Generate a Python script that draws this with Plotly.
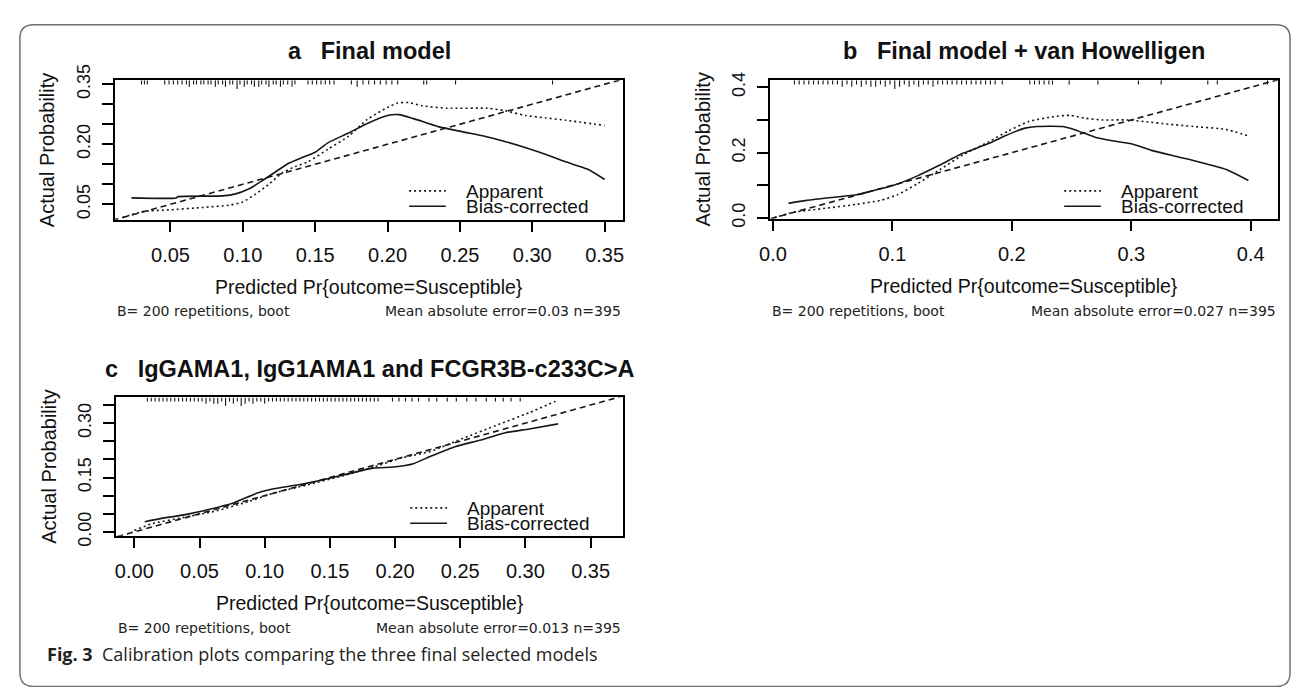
import plotly.graph_objects as go

W, H = 1295, 687
REG = "Liberation Sans, Arial, sans-serif"
SUBF = "DejaVu Sans, Verdana, sans-serif"
NB = "\u00a0"

# ------------------------------------------------------------------ data
ideal = [-0.05, 0.5]   # 45-degree reference line (ideal calibration)

# panel a : Final model
app_a_x = [0.017, 0.031, 0.049, 0.072, 0.091, 0.100, 0.109, 0.118, 0.127, 0.136, 0.145, 0.159,
           0.173, 0.186, 0.200, 0.207, 0.215, 0.224, 0.241, 0.269, 0.281, 0.295, 0.309, 0.323, 0.350]
app_a_y = [0.017, 0.032, 0.036, 0.042, 0.048, 0.056, 0.076, 0.100, 0.128, 0.144, 0.156, 0.188,
           0.220, 0.262, 0.292, 0.303, 0.304, 0.296, 0.290, 0.290, 0.284, 0.272, 0.266, 0.260, 0.247]
bc_a_x = [0.023, 0.054, 0.055, 0.086, 0.095, 0.104, 0.113, 0.123, 0.132, 0.141, 0.150, 0.159, 0.173,
          0.186, 0.200, 0.208, 0.218, 0.235, 0.252, 0.267, 0.281, 0.295, 0.309, 0.323, 0.338, 0.350]
bc_a_y = [0.066, 0.066, 0.069, 0.071, 0.076, 0.088, 0.108, 0.132, 0.153, 0.167, 0.180, 0.204, 0.228,
          0.252, 0.272, 0.274, 0.264, 0.244, 0.231, 0.220, 0.207, 0.192, 0.175, 0.156, 0.138, 0.112]
rug_a_x = [0.030, 0.032, 0.034, 0.046, 0.049, 0.052, 0.055, 0.058, 0.061, 0.063, 0.066, 0.068, 0.071,
           0.073, 0.076, 0.078, 0.081, 0.083, 0.086, 0.088, 0.091, 0.093, 0.096, 0.098, 0.101, 0.103,
           0.106, 0.108, 0.111, 0.113, 0.116, 0.118, 0.121, 0.123, 0.126, 0.128, 0.131, 0.134, 0.136,
           0.145, 0.148, 0.151, 0.154, 0.157, 0.160, 0.163, 0.175, 0.179, 0.183, 0.187, 0.191, 0.195,
           0.199, 0.203, 0.207, 0.225, 0.227, 0.247, 0.314]
rug_a_n = [1, 1, 1, 1, 1, 1, 1, 1, 1, 2, 1, 1, 1,
           1, 1, 1, 2, 1, 1, 2, 1, 1, 3, 1, 2, 1,
           1, 2, 2, 1, 1, 2, 1, 1, 2, 1, 1, 2, 1,
           1, 1, 1, 1, 1, 1, 1, 1, 2, 1, 1, 1, 1,
           1, 1, 1, 1, 1, 1, 1]

# panel b : Final model + van Howelligen
app_b_x = [0.001, 0.018, 0.042, 0.070, 0.090, 0.104, 0.121, 0.138, 0.159, 0.180, 0.197, 0.214,
           0.235, 0.249, 0.262, 0.276, 0.297, 0.311, 0.331, 0.352, 0.379, 0.398]
app_b_y = [0.001, 0.018, 0.029, 0.042, 0.054, 0.071, 0.105, 0.144, 0.193, 0.232, 0.266, 0.295,
           0.310, 0.314, 0.305, 0.300, 0.300, 0.295, 0.287, 0.280, 0.271, 0.251]
bc_b_x = [0.013, 0.028, 0.049, 0.070, 0.083, 0.101, 0.121, 0.138, 0.159, 0.180, 0.194, 0.211,
          0.221, 0.242, 0.252, 0.269, 0.283, 0.300, 0.317, 0.338, 0.355, 0.379, 0.398]
bc_b_y = [0.045, 0.054, 0.063, 0.071, 0.083, 0.100, 0.129, 0.159, 0.198, 0.227, 0.251, 0.275,
          0.280, 0.280, 0.271, 0.248, 0.237, 0.227, 0.207, 0.188, 0.173, 0.149, 0.115]
rug_b_x = [0.018, 0.022, 0.026, 0.030, 0.034, 0.038, 0.042, 0.046, 0.050, 0.054, 0.058, 0.062,
           0.066, 0.070, 0.074, 0.078, 0.082, 0.086, 0.090, 0.094, 0.098, 0.102, 0.106, 0.110,
           0.114, 0.118, 0.122, 0.126, 0.130, 0.134, 0.138, 0.142, 0.146, 0.150, 0.154, 0.158,
           0.162, 0.166, 0.170, 0.174, 0.178, 0.182, 0.186, 0.192, 0.215, 0.219, 0.223, 0.227,
           0.231, 0.234, 0.248, 0.272, 0.306, 0.325, 0.364, 0.372, 0.414]
rug_b_n = [1, 1, 1, 1, 1, 1, 1, 1, 1, 1, 2, 1,
           2, 1, 2, 1, 2, 2, 1, 2, 1, 3, 2, 1,
           2, 1, 2, 1, 1, 2, 1, 1, 1, 1, 1, 1,
           1, 1, 1, 1, 1, 1, 1, 1, 1, 1, 1, 1,
           1, 1, 1, 1, 1, 1, 1, 1, 1]

# panel c : IgGAMA1, IgG1AMA1 and FCGR3B-c233C>A
app_c_x = [0.000, 0.013, 0.038, 0.063, 0.088, 0.107, 0.132, 0.158, 0.183, 0.205, 0.227, 0.252,
           0.277, 0.303, 0.323]
app_c_y = [0.004, 0.022, 0.040, 0.058, 0.084, 0.107, 0.129, 0.153, 0.178, 0.204, 0.222, 0.258,
           0.293, 0.329, 0.360]
bc_c_x = [0.008, 0.019, 0.038, 0.057, 0.076, 0.095, 0.107, 0.126, 0.145, 0.164, 0.183, 0.199,
          0.214, 0.227, 0.246, 0.265, 0.284, 0.303, 0.325]
bc_c_y = [0.028, 0.036, 0.047, 0.062, 0.080, 0.108, 0.119, 0.130, 0.144, 0.160, 0.176, 0.179,
          0.188, 0.208, 0.235, 0.253, 0.273, 0.284, 0.298]
rug_c_x = [0.010, 0.013, 0.016, 0.019, 0.022, 0.025, 0.028, 0.031, 0.034, 0.037, 0.040, 0.043,
           0.046, 0.049, 0.052, 0.055, 0.058, 0.061, 0.064, 0.067, 0.070, 0.073, 0.076, 0.079,
           0.082, 0.085, 0.088, 0.091, 0.094, 0.097, 0.100, 0.103, 0.106, 0.109, 0.112, 0.115,
           0.118, 0.121, 0.124, 0.127, 0.130, 0.133, 0.136, 0.139, 0.142, 0.145, 0.148, 0.151,
           0.154, 0.157, 0.160, 0.163, 0.166, 0.169, 0.172, 0.175, 0.178, 0.181, 0.184, 0.187,
           0.198, 0.203, 0.208, 0.213, 0.218, 0.226, 0.232, 0.240, 0.247, 0.255, 0.262, 0.270,
           0.277, 0.283, 0.289, 0.296]
rug_c_n = [1, 1, 1, 1, 1, 1, 1, 1, 1, 1, 1, 1,
           1, 1, 1, 2, 1, 2, 2, 1, 3, 1, 2, 1,
           3, 2, 1, 2, 1, 1, 2, 1, 1, 1, 1, 1,
           1, 1, 1, 1, 1, 1, 1, 1, 1, 1, 1, 1,
           1, 1, 1, 1, 1, 1, 1, 1, 1, 1, 1, 1,
           1, 1, 1, 1, 1, 1, 1, 1, 1, 1, 1, 1,
           1, 1, 1, 1]

# tick values / labels
xt_a = [0.05, 0.10, 0.15, 0.20, 0.25, 0.30, 0.35]
xt_a_text = ["0.05", "0.10", "0.15", "0.20", "0.25", "0.30", "0.35"]
yt_a = [0.05, 0.10, 0.15, 0.20, 0.25, 0.30, 0.35]
yt_a_text = ["0.05", "", "", "0.20", "", "", "0.35"]
xt_b = [0.0, 0.1, 0.2, 0.3, 0.4]
xt_b_text = ["0.0", "0.1", "0.2", "0.3", "0.4"]
yt_b = [0.0, 0.1, 0.2, 0.3, 0.4]
yt_b_text = ["0.0", "", "0.2", "", "0.4"]
xt_c = [0.00, 0.05, 0.10, 0.15, 0.20, 0.25, 0.30, 0.35]
xt_c_text = ["0.00", "0.05", "0.10", "0.15", "0.20", "0.25", "0.30", "0.35"]
yt_c = [0.00, 0.05, 0.10, 0.15, 0.20, 0.25, 0.30, 0.35]
yt_c_text = ["0.00", "", "", "0.15", "", "", "0.30", ""]

panel_letters = ["a", "b", "c"]
titles = ["Final model", "Final model + van Howelligen", "IgGAMA1, IgG1AMA1 and FCGR3B-c233C>A"]
mae = ["0.03", "0.027", "0.013"]
n_obs = 395
B_reps = 200
legend_names = ["Apparent", "Bias-corrected"]
x_title = "Predicted Pr{outcome=Susceptible}"
y_title = "Actual Probability"
caption_bold = "Fig. 3"
caption_text = "Calibration plots comparing the three final selected models"

# ------------------------------------------------------------------ layout config (pixels)
panels = [
    dict(box=(104.5, 67, 617.7, 212), xr=[0.0114, 0.363], yr=[0.0116, 0.3596],
         xt=xt_a, xtt=xt_a_text, yt=yt_a, ytt=yt_a_text,
         app=(app_a_x, app_a_y), bc=(bc_a_x, bc_a_y), rug=(rug_a_x, rug_a_n),
         title_y=36, xtitle_y=282, sub_y=307, ytitle_x=36.5),
    dict(box=(765.2, 67, 1278.1, 211), xr=[-0.0027, 0.423], yr=[-0.002, 0.421],
         xt=xt_b, xtt=xt_b_text, yt=yt_b, ytt=yt_b_text,
         app=(app_b_x, app_b_y), bc=(bc_b_x, bc_b_y), rug=(rug_b_x, rug_b_n),
         title_y=36, xtitle_y=281, sub_y=307, ytitle_x=697),
    dict(box=(105.7, 397, 617.7, 541), xr=[-0.0142, 0.3752], yr=[-0.0106, 0.371],
         xt=xt_c, xtt=xt_c_text, yt=yt_c, ytt=yt_c_text,
         app=(app_c_x, app_c_y), bc=(bc_c_x, bc_c_y), rug=(rug_c_x, rug_c_n),
         title_y=367, xtitle_y=611, sub_y=637, ytitle_x=37.5),
]

LINE_C = "#161616"
LW = 1.6
fig = go.Figure()
annotations = []
shapes = []


def px(x):
    return x / W


def py(y):
    return 1 - y / H


for i, p in enumerate(panels):
    sfx = "" if i == 0 else str(i + 1)
    xa, ya = "x" + sfx, "y" + sfx
    l, t, r, b = p["box"]

    fig.add_trace(go.Scatter(x=ideal, y=ideal, mode="lines", xaxis=xa, yaxis=ya,
                             line=dict(color=LINE_C, width=LW, dash="6px,4px"),
                             showlegend=False, hoverinfo="skip"))
    fig.add_trace(go.Scatter(x=p["app"][0], y=p["app"][1], mode="lines", xaxis=xa, yaxis=ya,
                             line=dict(color=LINE_C, width=LW, dash="2px,3px", shape="spline",
                                       smoothing=0.6),
                             showlegend=False, name=legend_names[0]))
    fig.add_trace(go.Scatter(x=p["bc"][0], y=p["bc"][1], mode="lines", xaxis=xa, yaxis=ya,
                             line=dict(color=LINE_C, width=LW, shape="spline", smoothing=0.6),
                             showlegend=False, name=legend_names[1]))
    # rug of predicted values along the top edge
    yspan_per_px = (p["yr"][1] - p["yr"][0]) / (b - t)
    top = p["yr"][1]
    rx, ry = [], []
    for xv, n in zip(*p["rug"]):
        L = (2 + 2.3 * n) * yspan_per_px
        rx += [xv, xv, None]
        ry += [top, top - L, None]
    fig.add_trace(go.Scatter(x=rx, y=ry, mode="lines", xaxis=xa, yaxis=ya,
                             line=dict(color=LINE_C, width=1.1), showlegend=False,
                             hoverinfo="skip"))

    axis_common = dict(showline=True, mirror=True, linecolor="black", linewidth=1.5,
                       ticks="outside", ticklen=11, tickwidth=1.5, tickcolor="black",
                       showgrid=False, zeroline=False)
    fig.update_layout(**{
        "xaxis" + sfx: dict(domain=[px(l), px(r)], range=p["xr"], anchor=ya,
                            tickmode="array", tickvals=p["xt"], ticktext=p["xtt"],
                            ticklabelstandoff=6,
                            tickfont=dict(family=REG, size=20, color="#111"), **axis_common),
        "yaxis" + sfx: dict(domain=[py(b), py(t)], range=p["yr"], anchor=xa,
                            tickmode="array", tickvals=p["yt"], ticktext=p["ytt"],
                            tickangle=-90, ticklabelstandoff=5,
                            tickfont=dict(family=REG, size=18, color="#111"), **axis_common),
    })

    dom = xa + " domain"
    annotations += [
        dict(text="<b>" + panel_letters[i] + NB * 3 + titles[i] + "</b>", x=0.5, xref=dom,
             y=py(p["title_y"]), yref="paper", xanchor="center", yanchor="middle",
             showarrow=False, font=dict(family=REG, size=23.5, color="#111")),
        dict(text=x_title, x=0.5, xref=dom, y=py(p["xtitle_y"]), yref="paper",
             xanchor="center", yanchor="middle", showarrow=False,
             font=dict(family=REG, size=19.5, color="#111")),
        dict(text=y_title, x=px(p["ytitle_x"]), xref="paper", y=py((t + b) / 2), yref="paper",
             textangle=-90, xanchor="center", yanchor="middle", showarrow=False,
             font=dict(family=REG, size=20, color="#111")),
        dict(text=f"B= {B_reps} repetitions, boot", x=0, xref=dom, y=py(p["sub_y"]),
             yref="paper", xanchor="left", yanchor="middle", showarrow=False,
             font=dict(family=SUBF, size=14, color="#222")),
        dict(text=f"Mean absolute error={mae[i]} n={n_obs}", x=1, xref=dom, y=py(p["sub_y"]),
             yref="paper", xanchor="right", yanchor="middle", showarrow=False,
             font=dict(family=SUBF, size=14, color="#222")),
    ]
    # in-plot legend (bottom right)
    bw = r - l
    for k, (name, dash) in enumerate(zip(legend_names, ["2px,3px", "solid"])):
        yy = t + 115 + 16 * k
        shapes.append(dict(type="line", xref=dom, yref="paper",
                           x0=297 / bw, x1=334 / bw, y0=py(yy), y1=py(yy),
                           line=dict(color=LINE_C, width=LW, dash=dash)))
        annotations.append(dict(text=name, x=352 / bw, xref=dom, y=py(yy + 0.5), yref="paper",
                                xanchor="left", yanchor="middle", showarrow=False,
                                font=dict(family=REG, size=19, color="#111")))

# caption
annotations.append(dict(text=f"<b>{caption_bold}</b>{NB * 2}{caption_text}", x=px(34),
                        xref="paper", y=py(664), yref="paper", xanchor="left", yanchor="middle",
                        showarrow=False,
                        font=dict(family="Open Sans", size=18, color="#231f20")))

# outer rounded frame
x0, y0, x1, y1, rr = 9, 9, 1290, 698, 14
path = (f"M {px(x0 + rr)},{py(y0)} L {px(x1 - rr)},{py(y0)} Q {px(x1)},{py(y0)} {px(x1)},{py(y0 + rr)} "
        f"L {px(x1)},{py(y1 - rr)} Q {px(x1)},{py(y1)} {px(x1 - rr)},{py(y1)} "
        f"L {px(x0 + rr)},{py(y1)} Q {px(x0)},{py(y1)} {px(x0)},{py(y1 - rr)} "
        f"L {px(x0)},{py(y0 + rr)} Q {px(x0)},{py(y0)} {px(x0 + rr)},{py(y0)} Z")
shapes.append(dict(type="path", path=path, xref="paper", yref="paper",
                   line=dict(color="#6f6f6f", width=1.5), layer="below"))

fig.update_layout(width=W, height=H, margin=dict(l=0, r=0, t=0, b=0),
                  paper_bgcolor="white", plot_bgcolor="white",
                  annotations=annotations, shapes=shapes, showlegend=False)

fig.write_html("out.html", post_script="document.body.style.margin='0';",
               config={"displayModeBar": False})
